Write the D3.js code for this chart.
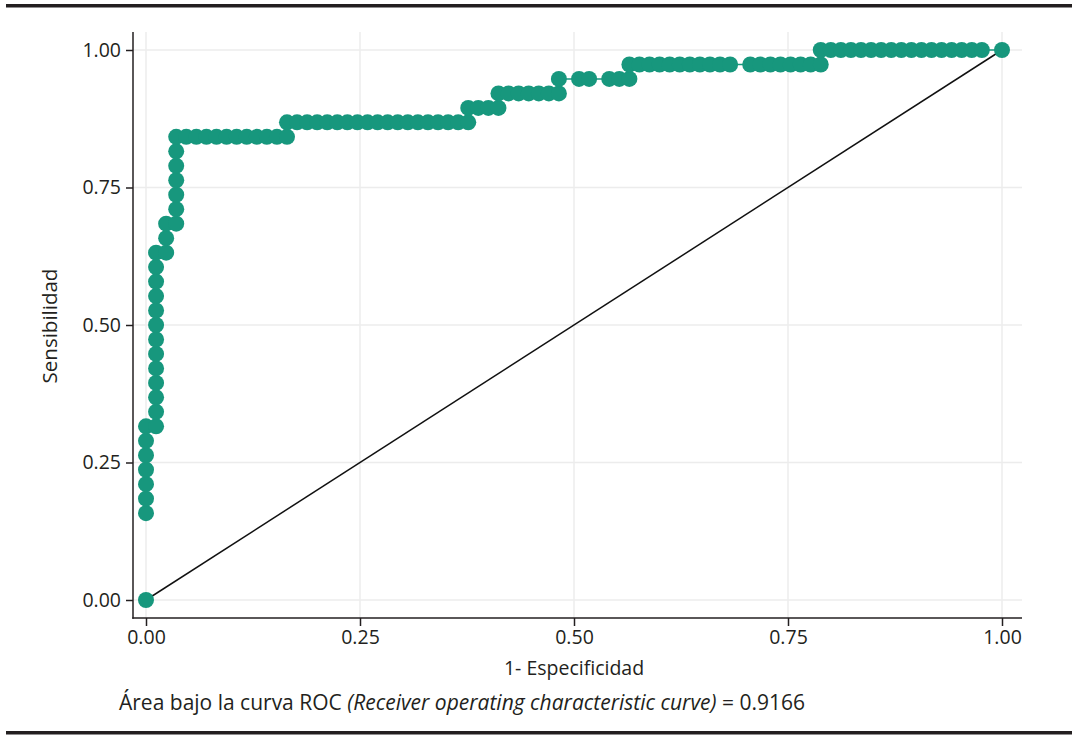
<!DOCTYPE html>
<html>
<head>
<meta charset="utf-8">
<script src="https://cdn.jsdelivr.net/npm/d3@7"></script>
<style>
  body { margin: 0; background: #fff; }
  text { font-family: "Open Sans", sans-serif; fill: #231f20; }
</style>
</head>
<body>
<div id="roc"></div>
<script>
// ROC points: false positives (out of 85) and true positives (out of 38)
var fpCount = [
  0, 0, 0, 0, 0, 0, 0, 0,
  1, 1, 1, 1, 1, 1, 1, 1, 1, 1, 1, 1, 1,
  2, 2, 2,
  3, 3, 3, 3, 3, 3, 3,
  4, 5, 6, 7, 8, 9, 10, 11, 12, 13, 14,
  14, 15, 16, 17, 18, 19, 20, 21, 22, 23, 24, 25, 26, 27, 28, 29, 30, 31, 32,
  32, 33, 34, 35,
  35, 36, 37, 38, 39, 40, 41,
  41, 43, 44, 46, 47, 48,
  48, 49, 50, 51, 52, 53, 54, 55, 56, 57, 58, 60, 61, 62, 63, 64, 65, 66, 67,
  67, 68, 69, 70, 71, 72, 73, 74, 75, 76, 77, 78, 79, 80, 81, 82, 83, 85
];
var tpCount = [
  0, 6, 7, 8, 9, 10, 11, 12,
  12, 13, 14, 15, 16, 17, 18, 19, 20, 21, 22, 23, 24,
  24, 25, 26,
  26, 27, 28, 29, 30, 31, 32,
  32, 32, 32, 32, 32, 32, 32, 32, 32, 32, 32,
  33, 33, 33, 33, 33, 33, 33, 33, 33, 33, 33, 33, 33, 33, 33, 33, 33, 33, 33,
  34, 34, 34, 34,
  35, 35, 35, 35, 35, 35, 35,
  36, 36, 36, 36, 36, 36,
  37, 37, 37, 37, 37, 37, 37, 37, 37, 37, 37, 37, 37, 37, 37, 37, 37, 37, 37,
  38, 38, 38, 38, 38, 38, 38, 38, 38, 38, 38, 38, 38, 38, 38, 38, 38, 38
];
var totalNeg = 85;
var totalPos = 38;

var xTicks = [0, 0.25, 0.5, 0.75, 1];
var yTicks = [0, 0.25, 0.5, 0.75, 1];
var xTitle = "1- Especificidad";
var yTitle = "Sensibilidad";

var width = 1078, height = 746;
var plotLeft = 133, plotRight = 1022, plotTop = 32, plotBottom = 618;
var green = "#17977d";

var svg = d3.select("#roc")
  .append("svg")
    .attr("width", width)
    .attr("height", height);

// scales
var x = d3.scaleLinear().domain([0, 1]).range([146, 1002]);
var y = d3.scaleLinear().domain([0, 1]).range([600, 50]);

// rules above and below the figure
svg.append("rect").attr("x", 6).attr("y", 4).attr("width", 1066).attr("height", 3.5).attr("fill", "#231f20");
svg.append("rect").attr("x", 6).attr("y", 731).attr("width", 1066).attr("height", 3.5).attr("fill", "#231f20");

// grid
svg.append("g").selectAll("line")
  .data(yTicks)
  .enter()
  .append("line")
    .attr("x1", plotLeft).attr("x2", plotRight)
    .attr("y1", d => y(d)).attr("y2", d => y(d))
    .attr("stroke", "#ececec").attr("stroke-width", 1.5);
svg.append("g").selectAll("line")
  .data(xTicks)
  .enter()
  .append("line")
    .attr("y1", plotTop).attr("y2", plotBottom)
    .attr("x1", d => x(d)).attr("x2", d => x(d))
    .attr("stroke", "#ececec").attr("stroke-width", 1.5);

// axes
var yAxis = svg.append("g")
  .attr("transform", "translate(" + plotLeft + ",0)")
  .call(d3.axisLeft(y).tickValues(yTicks).tickFormat(d3.format(".2f")).tickSize(7).tickPadding(5));
var xAxis = svg.append("g")
  .attr("transform", "translate(0," + plotBottom + ")")
  .call(d3.axisBottom(x).tickValues(xTicks).tickFormat(d3.format(".2f")).tickSize(8).tickPadding(4));
[xAxis, yAxis].forEach(function(g) {
  g.select(".domain").remove();
  g.selectAll(".tick line").attr("stroke", "#231f20").attr("stroke-width", 1.5);
  g.selectAll(".tick text").style("font-size", "19.5px").attr("fill", "#231f20");
});
svg.append("line")
  .attr("x1", plotLeft).attr("x2", plotLeft).attr("y1", plotTop).attr("y2", plotBottom + 0.75)
  .attr("stroke", "#231f20").attr("stroke-width", 1.5);
svg.append("line")
  .attr("x1", plotLeft - 0.75).attr("x2", plotRight).attr("y1", plotBottom).attr("y2", plotBottom)
  .attr("stroke", "#231f20").attr("stroke-width", 1.5);

// reference diagonal
svg.append("line")
  .attr("x1", x(0)).attr("y1", y(0)).attr("x2", x(1)).attr("y2", y(1))
  .attr("stroke", "#111").attr("stroke-width", 1.5);

// roc curve
var points = fpCount.map((fp, i) => ({ fx: fp / totalNeg, ty: tpCount[i] / totalPos }));
var line = d3.line().x(d => x(d.fx)).y(d => y(d.ty));
svg.append("path")
  .datum(points.slice(1))
  .attr("d", line)
  .attr("fill", "none")
  .attr("stroke", green)
  .attr("stroke-width", 1.5);

svg.append("g")
  .selectAll("circle")
  .data(points)
  .enter()
  .append("circle")
    .attr("cx", d => x(d.fx))
    .attr("cy", d => y(d.ty))
    .attr("r", 8)
    .attr("fill", green);

// titles
svg.append("text")
  .attr("x", 574).attr("y", 675)
  .attr("text-anchor", "middle")
  .style("font-size", "19.5px")
  .text(xTitle);
svg.append("text")
  .attr("transform", "translate(57,326) rotate(-90)")
  .attr("text-anchor", "middle")
  .style("font-size", "20.5px")
  .text(yTitle);

// caption
var caption = svg.append("text")
  .attr("x", 119).attr("y", 710)
  .style("font-size", "21px");
caption.append("tspan").text("Área bajo la curva ROC ");
caption.append("tspan").style("font-style", "italic").text("(Receiver operating characteristic curve)");
caption.append("tspan").text(" = 0.9166");
</script>
</body>
</html>
